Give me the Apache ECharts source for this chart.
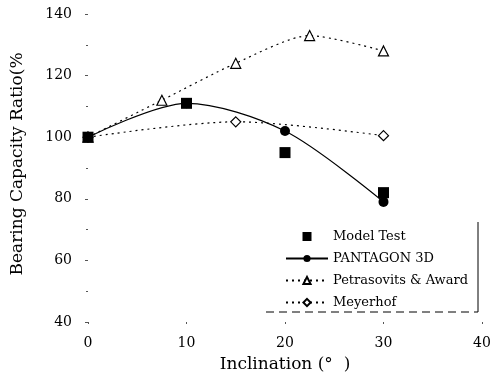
<!DOCTYPE html>
<html>
<head>
<meta charset="utf-8">
<script src="https://cdn.jsdelivr.net/npm/echarts@6/dist/echarts.min.js"></script>
<style>
  html, body { margin: 0; padding: 0; background: #fff; }
  #chart { width: 500px; height: 381px; }
</style>
</head>
<body>
<div id="chart"></div>
<script>
const modelTest = [[0, 100], [10, 111], [20, 95], [30, 82]];
const pantagon = [[0, 100], [10, 111], [20, 102], [30, 79]];
const petrasovits = [[0, 100], [7.5, 112], [15, 124], [22.5, 133], [30, 128]];
const meyerhof = [[0, 100], [15, 105], [30, 100.5]];

const font = 'DejaVu Serif';
const chart = echarts.init(document.getElementById('chart'));

chart.setOption({
  animation: false,
  backgroundColor: '#fff',
  textStyle: { fontFamily: font, color: '#000' },
  grid: { left: 88, right: 18, top: 14, bottom: 59 },
  xAxis: {
    type: 'value',
    min: 0,
    max: 40,
    interval: 10,
    name: 'Inclination (°  )',
    nameLocation: 'middle',
    nameGap: 34,
    nameTextStyle: { fontFamily: font, fontSize: 17, color: '#000' },
    axisLine: { show: false },
    axisTick: { show: true, length: 2, lineStyle: { color: '#555' } },
    splitLine: { show: false },
    axisLabel: { fontFamily: font, fontSize: 14, color: '#000', margin: 14 }
  },
  yAxis: {
    type: 'value',
    min: 40,
    max: 140,
    interval: 20,
    name: 'Bearing Capacity Ratio(%',
    nameLocation: 'middle',
    nameGap: 62,
    nameTextStyle: { fontFamily: font, fontSize: 17, color: '#000', padding: [0, 0, 0, 8] },
    axisLine: { show: false },
    axisTick: { show: true, length: 3, lineStyle: { color: '#555' } },
    minorTick: { show: true, splitNumber: 2, length: 2, lineStyle: { color: '#555' } },
    splitLine: { show: false },
    axisLabel: { fontFamily: font, fontSize: 14, color: '#000', margin: 16 }
  },
  legend: {
    orient: 'vertical',
    left: 280,
    top: 225,
    itemWidth: 42,
    itemHeight: 9,
    itemGap: 9,
    textStyle: { fontFamily: font, fontSize: 13, color: '#000' },
    data: [
      { name: 'Model Test', icon: 'path://M0,0h10v10h-10z' },
      'PANTAGON 3D',
      'Petrasovits & Award',
      'Meyerhof'
    ]
  },
  graphic: [
    { type: 'line', shape: { x1: 478, y1: 222, x2: 478, y2: 312 },
      style: { stroke: '#000', lineWidth: 1 } },
    { type: 'line', shape: { x1: 266, y1: 312, x2: 478, y2: 312 },
      style: { stroke: '#000', lineWidth: 1, lineDash: [8, 5] } }
  ],
  series: [
    {
      name: 'PANTAGON 3D',
      type: 'line',
      data: pantagon,
      smooth: 0.3,
      symbol: 'circle',
      symbolSize: 10,
      itemStyle: { color: '#000' },
      lineStyle: { color: '#000', width: 1.2 },
      z: 3
    },
    {
      name: 'Petrasovits & Award',
      type: 'line',
      data: petrasovits,
      smooth: 0.25,
      symbol: 'triangle',
      symbolSize: 10,
      itemStyle: { color: '#fff', borderColor: '#000', borderWidth: 1.2 },
      lineStyle: { color: '#000', width: 1.2, type: [2, 4] },
      z: 2
    },
    {
      name: 'Meyerhof',
      type: 'line',
      data: meyerhof,
      smooth: 0.3,
      symbol: 'diamond',
      symbolSize: 10,
      itemStyle: { color: '#fff', borderColor: '#000', borderWidth: 1.2 },
      lineStyle: { color: '#000', width: 1.2, type: [2, 4] },
      z: 2
    },
    {
      name: 'Model Test',
      type: 'scatter',
      data: modelTest,
      symbol: 'rect',
      symbolSize: 11,
      itemStyle: { color: '#000', opacity: 1 },
      z: 4
    }
  ]
});
</script>
</body>
</html>
